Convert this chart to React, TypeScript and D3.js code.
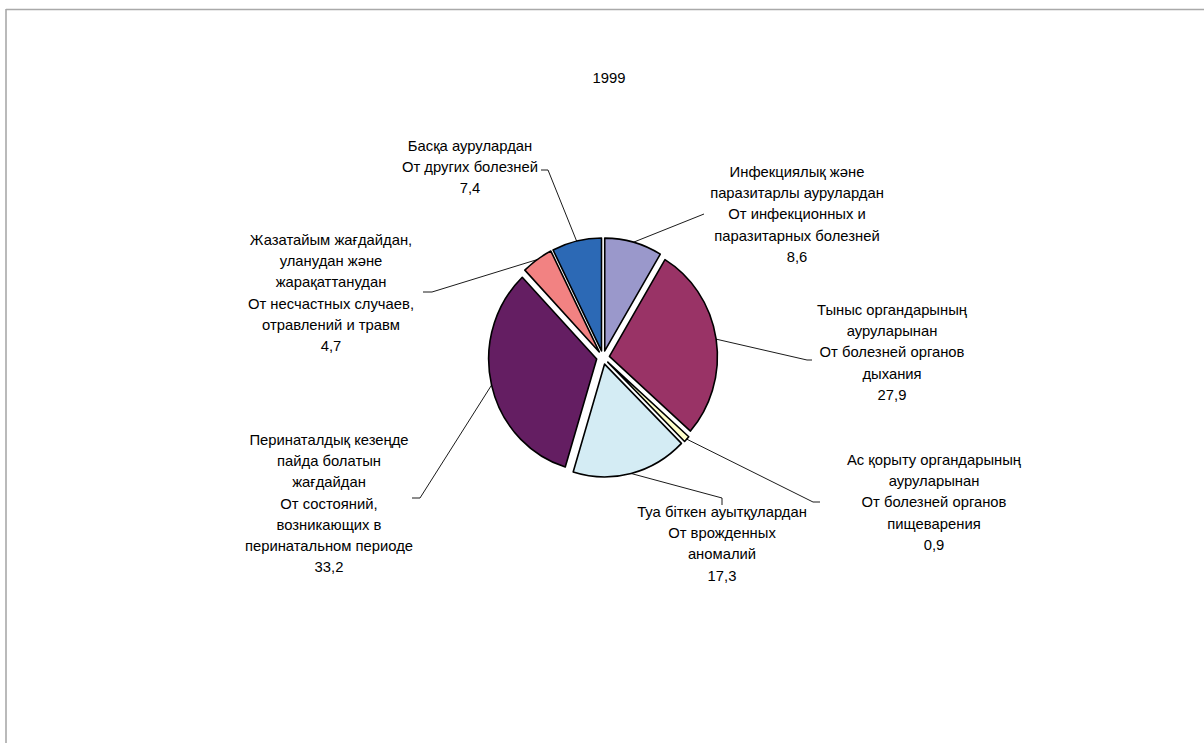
import React from "react";
import * as d3 from "d3";

const title = "1999";
const labelsKz: string[][] = [
  ["Инфекциялық және", "паразитарлы аурулардан"],
  ["Тыныс органдарының", "ауруларынан"],
  ["Ас қорыту органдарының", "ауруларынан"],
  ["Туа біткен ауытқулардан"],
  ["Перинаталдық кезеңде", "пайда болатын", "жағдайдан"],
  ["Жазатайым жағдайдан,", "уланудан және", "жарақаттанудан"],
  ["Басқа аурулардан"],
];
const labelsRu: string[][] = [
  ["От инфекционных и", "паразитарных болезней"],
  ["От болезней органов", "дыхания"],
  ["От болезней органов", "пищеварения"],
  ["От врожденных", "аномалий"],
  ["От состояний,", "возникающих в", "перинатальном периоде"],
  ["От несчастных случаев,", "отравлений и травм"],
  ["От других болезней"],
];
const values = [8.6, 27.9, 0.9, 17.3, 33.2, 4.7, 7.4];
const colors = ["#9A98CB", "#993366", "#FFFFCC", "#D4ECF4", "#641E62", "#F28282", "#2C69B5"];

// layout
const W = 1204, H = 743;
const cx = 603, cy = 357.5, R = 108, sy = 1.045, off = 6.5;
const FONT = "'Liberation Sans', Arial, sans-serif";
const FS = 14.8;
const LH = 21.2;
const labelPos: [number, number][] = [
  [797, 172], [892, 310], [934, 460], [722, 512], [329, 440], [331, 240], [470, 146],
];
const leaderEnds: [number, number][][] = [
  [[704, 214]],
  [[807, 360], [812, 360]],
  [[813, 502], [820, 502]],
  [[722, 498], [722, 505]],
  [[420, 498], [412, 498]],
  [[432, 292], [423, 292]],
  [[548, 170], [541, 170]],
];

const fmt = (v: number) => d3.format(".1f")(v).replace(".", ",");

export default function App() {
  const pie = d3.pie<number>().sort(null).value((d) => d).startAngle(0).endAngle(2 * Math.PI);
  const arcs = pie(values);
  const arc = d3.arc<d3.PieArcDatum<number>>().innerRadius(0).outerRadius(R);

  return (
    <svg width={W} height={H} style={{ position: "absolute", left: 0, top: 0, background: "#fff" }}>
      <rect x={0} y={0} width={W} height={H} fill="#fff" />
      <line x1={6} y1={9.5} x2={W} y2={9.5} stroke="#a9a9a9" strokeWidth={1.6} />
      <line x1={6} y1={9} x2={6} y2={H} stroke="#a9a9a9" strokeWidth={1.6} />
      <text x={609} y={78} fontFamily={FONT} fontSize={FS} textAnchor="middle" dominantBaseline="central" fill="#000">
        {title}
      </text>
      <g transform={`translate(${cx},${cy}) scale(1,${sy})`}>
        {arcs.map((a, i) => {
          const mid = (a.startAngle + a.endAngle) / 2;
          const dx = off * Math.sin(mid), dy = -off * Math.cos(mid);
          return (
            <path
              key={i}
              d={arc(a) || ""}
              transform={`translate(${dx},${dy})`}
              fill={colors[i]}
              stroke="#000"
              strokeWidth={1.6}
              strokeLinejoin="round"
              vectorEffect="non-scaling-stroke"
            />
          );
        })}
      </g>
      {arcs.map((a, i) => {
        const mid = (a.startAngle + a.endAngle) / 2;
        const ax = cx + (off + R) * Math.sin(mid);
        const ay = cy - sy * (off + R) * Math.cos(mid);
        const pts: [number, number][] = [[ax, ay], ...leaderEnds[i]];
        const line = d3.line()(pts) || "";
        return <path key={"l" + i} d={line} fill="none" stroke="#000" strokeWidth={0.9} />;
      })}
      {arcs.map((a, i) => {
        const lines = [...labelsKz[i], ...labelsRu[i], fmt(values[i])];
        const [lx, ly] = labelPos[i];
        return (
          <text key={"t" + i} fontFamily={FONT} fontSize={FS} textAnchor="middle" dominantBaseline="central" fill="#000">
            {lines.map((s, j) => (
              <tspan key={j} x={lx} y={ly + j * LH}>
                {s}
              </tspan>
            ))}
          </text>
        );
      })}
    </svg>
  );
}
